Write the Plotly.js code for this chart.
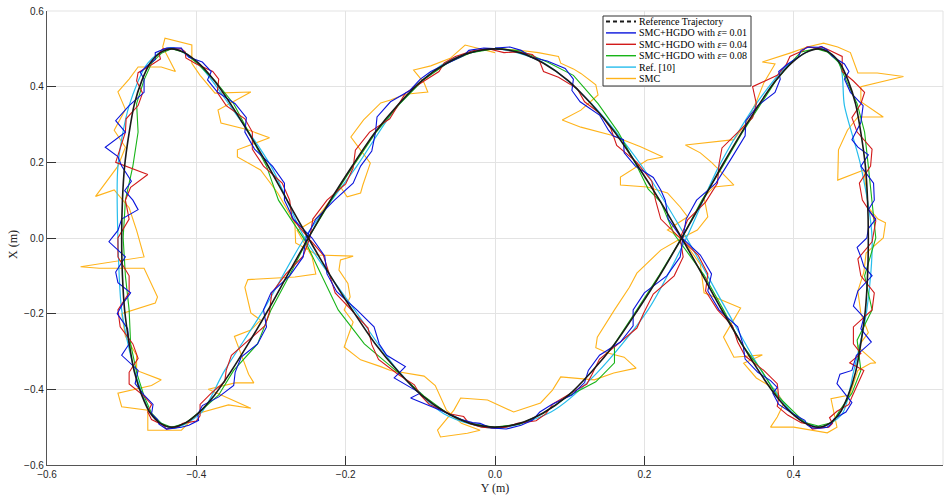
<!DOCTYPE html>
<html>
<head>
<meta charset="utf-8">
<script src="https://cdn.plot.ly/plotly-3.0.1.min.js"></script>
<style>
  html, body { margin: 0; padding: 0; background: #ffffff; }
  #chart { width: 950px; height: 502px; }
</style>
</head>
<body>
<div id="chart"></div>
<script>
// Horizontal axis carries the Y position, vertical axis the X position (metres).

// Reference trajectory
const refY = [0,.033,.065,.098,.129,.161,.191,.221,.25,.278,.304,.330,.354,.376,.397,.416,.433,.448,.462,.473,.483,.490,.496,.499,.5,.499,.496,.490,.483,.473,.462,.448,.433,.416,.397,.376,.354,.330,.304,.278,.25,.221,.191,.161,.129,.098,.065,.033,0,-.033,-.065,-.098,-.129,-.161,-.191,-.221,-.25,-.278,-.304,-.330,-.354,-.376,-.397,-.416,-.433,-.448,-.462,-.473,-.483,-.490,-.496,-.499,-.5,-.499,-.496,-.490,-.483,-.473,-.462,-.448,-.433,-.416,-.397,-.376,-.354,-.330,-.304,-.278,-.25,-.221,-.191,-.161,-.129,-.098,-.065,-.033,0];
const refX = [.5,.490,.462,.416,.354,.278,.191,.098,0,-.098,-.191,-.278,-.354,-.416,-.462,-.490,-.5,-.490,-.462,-.416,-.354,-.278,-.191,-.098,0,.098,.191,.278,.354,.416,.462,.490,
  .5,.490,.462,.416,.354,.278,.191,.098,0,-.098,-.191,-.278,-.354,-.416,-.462,-.490,-.5,-.490,-.462,-.416,-.354,-.278,-.191,-.098,0,.098,.191,.278,.354,.416,.462,.490,
  .5,.490,.462,.416,.354,.278,.191,.098,0,-.098,-.191,-.278,-.354,-.416,-.462,-.490,-.5,-.490,-.462,-.416,-.354,-.278,-.191,-.098,0,.098,.191,.278,.354,.416,.462,.490,
  .5];

// SMC+HGDO, epsilon = 0.01
const hgdo001Y = [0,.02,.035,.048,.07,.094,.105,.103,.114,.14,
  .152,.158,.172,.173,.188,.212,.222,.228,.232,.248,
  .275,.29,.285,.30,.325,.332,.335,.352,.369,.378,
  .372,.38,.40,.415,.418,.424,.435,.445,.45,.454,
  .47,.478,.468,.458,.462,.478,.484,.504,.49,.494,
  .48,.486,.505,.494,.49,.485,.498,.50,.51,.50,
  .508,.507,.49,.50,.486,.478,.49,.493,.476,.468,
  .474,.468,.452,.445,.437,.433,.42,.41,.406,.392,
  .38,.382,.375,.352,.336,.335,.318,.31,.296,.27,
  .256,.252,.248,.23,.2,.185,.185,.168,.14,.125,
  .12,.103,.076,.06,.05,.035,.015,-.005,-.02,-.03,
  -.045,-.07,-.113,-.10,-.135,-.12,-.145,-.155,-.162,-.185,
  -.212,-.225,-.228,-.245,-.27,-.282,-.282,-.298,-.322,-.335,
  -.333,-.348,-.372,-.385,-.38,-.392,-.41,-.418,-.42,-.43,
  -.44,-.455,-.455,-.466,-.475,-.47,-.47,-.49,-.508,-.495,
  -.522,-.505,-.50,-.487,-.496,-.485,-.478,-.50,-.505,-.517,
  -.495,-.508,-.505,-.488,-.498,-.506,-.492,-.49,-.50,-.478,
  -.482,-.47,-.458,-.46,-.452,-.45,-.44,-.43,-.42,-.41,
  -.397,-.398,-.392,-.37,-.35,-.348,-.34,-.318,-.306,-.31,
  -.3,-.275,-.257,-.253,-.24,-.215,-.19,-.18,-.165,-.16,
  -.158,-.14,-.114,-.10,-.086,-.06,-.042,-.035,-.015,.005];
const hgdo001X = [.502,.505,.496,.478,.468,.448,.42,.39,.36,.325,
  .285,.27,.26,.225,.19,.16,.127,.10,.05,.005,
  -.045,-.095,-.14,-.19,-.235,-.28,-.32,-.355,-.377,-.395,
  -.41,-.44,-.466,-.482,-.494,-.502,-.503,-.5,-.492,-.478,
  -.46,-.435,-.41,-.385,-.36,-.35,-.31,-.275,-.24,-.21,
  -.18,-.14,-.10,-.075,-.05,-.025,0,.025,.05,.075,
  .10,.145,.19,.22,.24,.26,.305,.35,.385,.42,
  .44,.46,.48,.497,.506,.504,.505,.496,.478,.46,
  .44,.42,.385,.35,.31,.27,.215,.19,.145,.10,
  .05,.004,-.05,-.10,-.145,-.19,-.232,-.275,-.31,-.35,
  -.382,-.415,-.44,-.46,-.482,-.495,-.505,-.502,-.49,-.488,
  -.48,-.458,-.423,-.41,-.37,-.34,-.31,-.28,-.235,-.19,
  -.142,-.095,-.048,0,.05,.10,.145,.19,.235,.28,
  .318,.355,.386,.418,.44,.465,.478,.495,.502,.503,
  .502,.49,.472,.455,.438,.42,.385,.35,.31,.28,
  .24,.215,.19,.15,.125,.10,.075,.05,.02,-.01,
  -.05,-.09,-.118,-.145,-.172,-.20,-.24,-.28,-.31,-.35,
  -.385,-.415,-.44,-.465,-.48,-.492,-.505,-.503,-.5,-.495,
  -.482,-.466,-.443,-.42,-.39,-.355,-.315,-.28,-.235,-.19,
  -.145,-.10,-.05,0,.05,.10,.145,.19,.23,.28,
  .32,.36,.39,.42,.44,.465,.482,.496,.502,.5];

// SMC+HGDO, epsilon = 0.04
const hgdo004Y = [-.005,.012,.03,.05,.06,.065,.085,.11,.12,.14,
  .155,.163,.19,.21,.215,.222,.245,.272,.285,.282,
  .298,.318,.325,.335,.36,.378,.38,.378,.392,.41,
  .42,.425,.436,.447,.452,.448,.458,.474,.478,.494,
  .475,.49,.48,.48,.505,.508,.49,.486,.505,.51,
  .492,.488,.503,.505,.485,.478,.49,.495,.48,.465,
  .465,.465,.45,.438,.43,.418,.412,.395,.39,.378,
  .345,.35,.345,.325,.304,.30,.298,.282,.258,.248,
  .252,.24,.212,.2,.19,.165,.14,.13,.123,.1,
  .078,.068,.055,.03,.015,0,-.018,-.035,-.042,-.06,
  -.088,-.1,-.108,-.13,-.156,-.165,-.17,-.19,-.214,-.222,
  -.23,-.252,-.272,-.275,-.285,-.31,-.325,-.325,-.335,-.36,
  -.372,-.37,-.378,-.40,-.414,-.415,-.42,-.435,-.445,-.45,
  -.448,-.46,-.478,-.48,-.472,-.478,-.494,-.495,-.508,-.465,
  -.488,-.495,-.49,-.505,-.505,-.49,-.49,-.505,-.502,-.485,
  -.478,-.49,-.49,-.47,-.46,-.465,-.46,-.445,-.44,-.435,
  -.425,-.418,-.4,-.395,-.395,-.38,-.362,-.36,-.353,-.33,
  -.308,-.302,-.299,-.28,-.257,-.248,-.244,-.225,-.2,-.19,
  -.187,-.168,-.141,-.13,-.12,-.095,-.075,-.068,-.053,-.03,
  -.012,0];
const hgdo004X = [.498,.49,.492,.485,.466,.44,.425,.395,.36,.33,
  .29,.245,.20,.15,.10,.05,.005,-.045,-.095,-.14,
  -.19,-.232,-.275,-.312,-.35,-.385,-.42,-.445,-.468,-.488,
  -.492,-.505,-.502,-.5,-.49,-.475,-.458,-.44,-.42,-.35,
  -.33,-.305,-.28,-.235,-.19,-.145,-.10,-.055,-.01,.045,
  .10,.145,.19,.235,.28,.318,.355,.385,.415,.44,
  .465,.48,.494,.505,.502,.505,.495,.48,.458,.43,
  .40,.355,.318,.28,.238,.195,.145,.095,.048,0,
  -.05,-.10,-.148,-.195,-.238,-.28,-.32,-.36,-.386,-.412,
  -.438,-.465,-.483,-.49,-.5,-.503,-.5,-.49,-.472,-.465,
  -.44,-.415,-.388,-.36,-.321,-.282,-.238,-.195,-.145,-.095,
  -.045,.005,.053,.10,.145,.19,.235,.28,.315,.35,
  .385,.42,.44,.46,.476,.492,.5,.5,.5,.488,
  .473,.458,.437,.415,.383,.35,.315,.28,.2,.168,
  .134,.10,.05,0,-.05,-.10,-.145,-.19,-.235,-.28,
  -.318,-.355,-.386,-.418,-.44,-.46,-.48,-.494,-.505,-.502,
  -.5,-.49,-.484,-.47,-.44,-.41,-.38,-.35,-.31,-.27,
  -.232,-.195,-.145,-.095,-.048,0,.05,.10,.143,.185,
  .232,.28,.315,.35,.383,.415,.44,.463,.48,.495,
  .5,.5];

// SMC+HGDO, epsilon = 0.08
const hgdo008Y = [0,.035,.07,.105,.138,.165,.19,.205,.222,.24,.28,.306,.33,.357,.377,.40,.415,.433,.452,.462,.478,.49,.485,.505,.495,.51,.505,.50,.495,.485,.47,.46,.445,.43,.41,.395,.376,.355,.33,.305,.277,.25,.22,.19,.16,.16,.135,.098,.065,.033,0,-.033,-.065,-.095,-.13,-.175,-.21,-.232,-.255,-.29,-.306,-.33,-.35,-.375,-.398,-.415,-.433,-.447,-.46,-.47,-.48,-.478,-.485,-.495,-.498,-.495,-.49,-.488,-.48,-.47,-.46,-.447,-.433,-.415,-.397,-.37,-.35,-.318,-.30,-.275,-.25,-.22,-.19,-.16,-.128,-.097,-.064,-.032,0];
const hgdo008X = [.502,.494,.465,.43,.355,.28,.19,.13,.095,.01,-.098,-.19,-.28,-.35,-.415,-.46,-.488,-.497,-.488,-.455,-.41,-.35,-.27,-.19,-.10,0,.10,.19,.28,.355,.418,.465,.492,.5,.492,.46,.415,.35,.275,.19,.1,0,-.098,-.19,-.28,-.33,-.38,-.418,-.463,-.492,-.5,-.49,-.462,-.418,-.355,-.28,-.19,-.10,-.005,.10,.19,.28,.355,.415,.46,.49,.5,.488,.462,.418,.355,.28,.19,.10,0,-.10,-.19,-.28,-.355,-.418,-.463,-.49,-.5,-.49,-.462,-.415,-.35,-.28,-.19,-.098,0,.098,.19,.278,.354,.416,.462,.49,.5];

// Ref. [10]
const ref10Y = [0,.063,.128,.195,.255,.31,.358,.40,.435,.465,.48,.498,.505,.49,.468,.462,.435,.395,.35,.30,.255,.205,.135,.075,0,-.068,-.13,-.188,-.255,-.30,-.355,-.40,-.435,-.465,-.49,-.505,-.505,-.5,-.482,-.46,-.433,-.395,-.362,-.31,-.255,-.185,-.13,-.065,0];
const ref10X = [.5,.465,.358,.195,.005,-.19,-.355,-.465,-.5,-.465,-.355,-.19,0,.19,.35,.458,.502,.462,.355,.19,-.005,-.19,-.36,-.46,-.503,-.465,-.35,-.19,0,.19,.35,.465,.503,.462,.35,.19,0,-.19,-.355,-.465,-.503,-.465,-.35,-.19,0,.19,.35,.465,.5];

// SMC
const smcY = [
  0,.03,.058,.085,.088,.105,.115,.135,.138,.115,.09,.115,.155,.195,.225,.204,.168,.168,.204,.231,.248,.258,.231,.25,
  .275,.28,.305,.329,.306,.32,.358,.333,.35,.375,.387,.378,.369,.40,.445,.458,
  .45,.475,.486,.503,.51,.486,.50,.49,.486,.494,.497,.52,.523,.513,.50,.494,.459,.46,.472,.486,.52,.49,.49,.547,.512,.486,.476,.459,.44,.418,.397,.358,.375,
  .36,.35,.335,.32,.263,.255,.275,.29,.305,.32,.293,.28,.285,.271,.25,
  .222,.19,.18,.16,.137,.135,.151,.173,.189,.159,.133,.088,.077,.061,.025,-.01,-.046,-.055,-.069,-.077,-.073,-.037,-.02,
  -.045,-.065,-.08,-.095,-.14,-.153,-.18,-.202,-.194,-.19,-.202,-.194,-.197,-.209,-.207,-.19,-.238,-.267,
  -.268,-.291,-.314,-.345,-.345,-.302,-.331,-.367,-.371,-.327,-.375,-.395,-.406,-.406,-.442,-.445,-.428,-.447,-.478,
  -.49,-.505,-.495,-.51,-.495,-.505,-.535,-.51,-.49,-.48,-.47,-.555,-.53,-.47,-.452,-.455,-.50,-.495,-.48,-.48,-.447,-.46,-.505,-.50,-.465,-.465,-.42,
  -.397,-.357,-.327,-.384,-.348,-.323,-.33,-.349,-.327,-.314,-.327,-.335,-.331,-.268,-.24,-.245,-.265,-.24,-.23,-.207,-.198,-.18,-.177,-.167,-.193,-.176,-.153,-.14,-.12,-.09,-.095,-.109,-.086,-.06,-.04,-.02,0];
const smcX = [
  .50,.497,.49,.48,.462,.447,.435,.405,.378,.338,.312,.293,.272,.241,.214,.206,.161,.14,.135,.119,.082,.056,.021,0,
  -.07,-.145,-.165,-.185,-.262,-.315,-.309,-.331,-.37,-.40,-.436,-.473,-.5,-.5,-.515,-.50,
  -.425,-.415,-.35,-.331,-.33,-.288,-.25,-.2,-.14,-.09,-.04,0,.04,.05,.08,.18,.153,.233,.285,.32,.32,.36,.40,.427,.436,.436,.49,.505,.515,.505,.49,.465,.46,
  .41,.36,.30,.26,.246,.246,.225,.20,.17,.14,.135,.108,.056,.021,0,
  -.032,-.093,-.13,-.19,-.262,-.29,-.304,-.315,-.344,-.357,-.375,-.367,-.402,-.436,-.46,-.428,-.423,-.455,-.489,-.508,-.526,-.516,-.508,
  -.49,-.455,-.39,-.365,-.35,-.34,-.322,-.288,-.243,-.222,-.19,-.156,-.12,-.085,-.058,-.048,-.045,-.013,
  .04,.119,.18,.214,.233,.265,.286,.304,.338,.386,.383,.43,.462,.51,.528,.505,.44,.452,.452,
  .42,.386,.34,.285,.24,.19,.11,.127,.08,.02,-.05,-.076,-.08,-.08,-.156,-.172,-.2,-.26,-.31,-.35,-.375,-.39,-.41,-.446,-.455,-.508,-.508,
  -.463,-.441,-.45,-.40,-.383,-.383,-.36,-.26,-.243,-.217,-.198,-.13,-.11,-.103,-.095,-.05,.02,.05,.075,.135,.109,.119,.14,.198,.267,.312,.357,.365,.38,.386,.41,.444,.455,.475,.51,.5,.49];

const seriesNames = [
  'Reference Trajectory',
  'SMC+HGDO with <i>ε</i>= 0.01',
  'SMC+HGDO with <i>ε</i>= 0.04',
  'SMC+HGDO with <i>ε</i>= 0.08',
  'Ref. [10]',
  'SMC'
];
const seriesColors = ['#1a1a1a', '#0a14dc', '#d21a1a', '#18b418', '#26bdec', '#ffb31a'];

function path(xs, ys, color, width, name, shape) {
  return {
    type: 'scatter', mode: 'lines', x: xs, y: ys, name: name,
    line: { color: color, width: width, shape: shape || 'linear', smoothing: 0.8 },
    showlegend: false, hoverinfo: 'skip'
  };
}

// Drawn back to front: SMC underneath, reference trajectory on top.
const traces = [
  path(smcY, smcX, seriesColors[5], 1.1, seriesNames[5]),
  path(ref10Y, ref10X, seriesColors[4], 1.2, seriesNames[4], 'spline'),
  path(hgdo008Y, hgdo008X, seriesColors[3], 1.1, seriesNames[3]),
  path(hgdo004Y, hgdo004X, seriesColors[2], 1.1, seriesNames[2]),
  path(hgdo001Y, hgdo001X, seriesColors[1], 1.1, seriesNames[1]),
  path(refY, refX, seriesColors[0], 1.6, seriesNames[0], 'spline')
];

// Plot frame in pixels
const L = 47, T = 11, W = 896, H = 454;
const px = p => (p - L) / W;
const py = p => (T + H - p) / H;

const titleFont = { family: 'Liberation Serif, serif', size: 12, color: '#222222' };

const shapes = [
  { type: 'line', xref: 'paper', yref: 'paper', x0: 0, x1: 1, y0: 1, y1: 1, line: { color: '#e3e3e3', width: 1 }, layer: 'below' },
  { type: 'line', xref: 'paper', yref: 'paper', x0: 1, x1: 1, y0: 0, y1: 1, line: { color: '#e3e3e3', width: 1 }, layer: 'below' },
  { type: 'rect', xref: 'paper', yref: 'paper', x0: px(603), x1: px(751), y0: py(86), y1: py(16),
    line: { color: '#333333', width: 1 }, fillcolor: '#ffffff', layer: 'above' }
];
const annotations = [
  // vertical axis title
  { xref: 'paper', yref: 'paper', x: px(13), y: py(245), xanchor: 'center', yanchor: 'middle',
    text: 'X (m)', textangle: -90, showarrow: false, font: titleFont }
];
seriesNames.forEach((name, i) => {
  const yy = py(21.5 + 11.4 * i);
  shapes.push({ type: 'line', xref: 'paper', yref: 'paper', x0: px(606), x1: px(636), y0: yy, y1: yy,
    line: { color: seriesColors[i], width: i === 0 ? 1.8 : 1.4, dash: i === 0 ? '4px,3px' : 'solid' }, layer: 'above' });
  annotations.push({ xref: 'paper', yref: 'paper', x: px(637), y: yy, xanchor: 'left', yanchor: 'middle',
    text: name, showarrow: false, font: { family: 'Liberation Serif, serif', size: 10, color: '#000000' } });
});

const tickFont = { family: 'Liberation Sans Narrow, Arial Narrow, Liberation Sans, sans-serif', size: 10, color: '#262626' };
const axisCommon = {
  range: [-0.6, 0.6], dtick: 0.2, tick0: -0.6, tickformat: '.1f',
  showgrid: true, gridcolor: '#e3e3e3', gridwidth: 1, zeroline: false,
  showline: true, linecolor: '#555555', linewidth: 1.2, mirror: false,
  ticks: 'inside', ticklen: 9, tickwidth: 1, tickcolor: '#333333',
  tickfont: tickFont, automargin: false, fixedrange: true
};

const layout = {
  width: 950, height: 502,
  margin: { l: L, r: 950 - L - W, t: T, b: 502 - T - H },
  paper_bgcolor: '#ffffff', plot_bgcolor: '#ffffff',
  showlegend: false,
  xaxis: Object.assign({}, axisCommon, {
    title: { text: 'Y (m)', font: titleFont, standoff: 4 }
  }),
  yaxis: Object.assign({}, axisCommon),
  shapes: shapes,
  annotations: annotations
};

Plotly.newPlot('chart', traces, layout, { staticPlot: true, displayModeBar: false });
</script>
</body>
</html>
